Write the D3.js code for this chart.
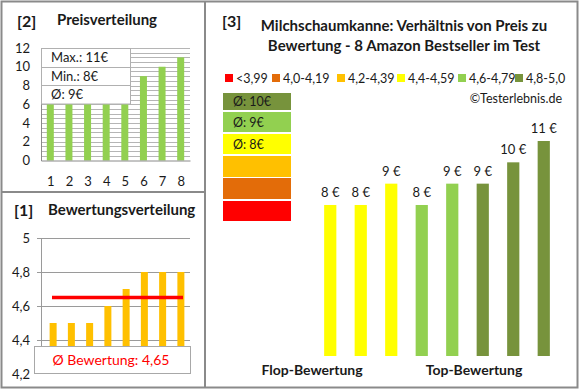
<!DOCTYPE html>
<html>
<head>
<meta charset="utf-8">
<script src="https://cdn.jsdelivr.net/npm/d3@7"></script>
<style>
  html, body { margin: 0; padding: 0; background: #fff; }
  svg { display: block; font-family: Lato, "Open Sans", sans-serif; }
</style>
</head>
<body>
<svg id="chart" width="580" height="390"></svg>
<script>
// ---------- data ----------
const priceCategories = [1, 2, 3, 4, 5, 6, 7, 8];
const priceValues = [8, 8, 8, 9, 9, 9, 10, 11];
const priceTicks = [0, 2, 4, 6, 8, 10, 12];
const priceStats = ["Max.: 11€", "Min.: 8€", "Ø: 9€"];

const ratingCategories = [1, 2, 3, 4, 5, 6, 7, 8];
const ratingValues = [4.5, 4.5, 4.5, 4.6, 4.7, 4.8, 4.8, 4.8];
const ratingTicks = [4.2, 4.4, 4.6, 4.8, 5];
const ratingAverage = 4.65;

const mainCategories = ["p1", "p2", "p3", "p4", "p5", "p6", "p7", "p8"];
const mainPrices = [8, 8, 9, 8, 9, 9, 10, 11];
const mainRatingClass = [3, 3, 3, 4, 4, 5, 5, 5];

const legendLabels = ["<3,99", "4,0-4,19", "4,2-4,39", "4,4-4,59", "4,6-4,79", "4,8-5,0"];
const classColors = ["#FF0000", "#E36C09", "#FFC000", "#FFFF00", "#92D050", "#77933C"];
const avgBoxLabels = ["Ø: 10€", "Ø: 9€", "Ø: 8€", "", "", ""];

// ---------- setup ----------
const svg = d3.select("#chart");
const border = "#8a8a8a";
const txt = "#1a1a1a";
const fmt = d => String(d).replace(".", ",");

// frames
svg.append("rect").attr("x", 1.5).attr("y", 1.5).attr("width", 576).attr("height", 386)
  .attr("fill", "none").attr("stroke", border).attr("stroke-width", 2);
svg.append("line").attr("x1", 205).attr("x2", 205).attr("y1", 1).attr("y2", 388)
  .attr("stroke", border).attr("stroke-width", 2);
svg.append("line").attr("x1", 1).attr("x2", 205).attr("y1", 192).attr("y2", 192)
  .attr("stroke", border).attr("stroke-width", 2);

// ---------- panel [2] Preisverteilung ----------
{
  const g = svg.append("g");
  g.append("text").attr("x", 17).attr("y", 27).attr("font-size", 16).attr("font-weight", "bold")
    .attr("fill", txt).text("[2]");
  g.append("text").attr("x", 57).attr("y", 25).attr("font-size", 15).attr("font-weight", "bold")
    .attr("fill", txt).text("Preisverteilung");

  const x = d3.scalePoint().domain(priceCategories).range([41, 190]).padding(0.5);
  const y = d3.scaleLinear().domain([0, 12]).range([160.5, 48]);

  // minor gridlines every 0.5
  const minor = d3.range(0.5, 12.01, 0.5);
  g.selectAll(".pg").data(minor).join("line")
    .attr("x1", 41).attr("x2", 190)
    .attr("y1", d => Math.round(y(d)) + 0.5).attr("y2", d => Math.round(y(d)) + 0.5)
    .attr("stroke", "#b5b5b5").attr("stroke-width", 1);

  g.selectAll(".pb").data(priceValues).join("rect")
    .attr("x", (d, i) => x(priceCategories[i]) - 3.5).attr("width", 7)
    .attr("y", d => y(d)).attr("height", d => y(0) - y(d))
    .attr("fill", "#92D050");

  // axes
  const ya = g.append("g").attr("transform", "translate(41,0)")
    .call(d3.axisLeft(y).tickValues(priceTicks).tickSize(0).tickPadding(11));
  ya.select(".domain").attr("stroke", border);
  ya.selectAll("text").attr("font-size", 13).attr("fill", txt).attr("font-family", "Lato, sans-serif");

  const xa = g.append("g").attr("transform", "translate(0,160.5)")
    .call(d3.axisBottom(x).tickSize(0).tickPadding(16));
  xa.select(".domain").attr("stroke", border);
  xa.selectAll("text").attr("font-size", 13).attr("fill", txt).attr("font-family", "Lato, sans-serif");

  // stats box
  const rows = [48, 67.5, 85.5, 104];
  g.append("rect").attr("x", 41.5).attr("y", 48.5).attr("width", 89).attr("height", 55.5)
    .attr("fill", "#fff").attr("stroke", "#b0b0b0");
  g.selectAll(".sl").data([rows[1], rows[2]]).join("line")
    .attr("x1", 41.5).attr("x2", 130.5).attr("y1", d => d).attr("y2", d => d)
    .attr("stroke", "#b0b0b0");
  g.selectAll(".st").data(priceStats).join("text")
    .attr("x", 51).attr("y", (d, i) => (rows[i] + rows[i + 1]) / 2 + 4.5)
    .attr("font-size", 13).attr("fill", txt).text(d => d);
}

// ---------- panel [1] Bewertungsverteilung ----------
{
  const g = svg.append("g");
  g.append("text").attr("x", 14).attr("y", 216).attr("font-size", 16).attr("font-weight", "bold")
    .attr("fill", txt).text("[1]");
  g.append("text").attr("x", 48).attr("y", 215).attr("font-size", 15).attr("font-weight", "bold")
    .attr("fill", txt).text("Bewertungsverteilung");

  const x = d3.scalePoint().domain(ratingCategories).range([44, 190]).padding(0.5);
  const y = d3.scaleLinear().domain([4.2, 5]).range([374, 238]);

  g.selectAll(".rg").data(ratingTicks.filter(d => d > 4.2)).join("line")
    .attr("x1", 37).attr("x2", 190)
    .attr("y1", d => Math.round(y(d)) + 0.5).attr("y2", d => Math.round(y(d)) + 0.5)
    .attr("stroke", "#9a9a9a");
  g.append("line").attr("x1", 41.5).attr("x2", 41.5).attr("y1", 238).attr("y2", 374)
    .attr("stroke", "#9a9a9a");

  g.selectAll(".rb").data(ratingValues).join("rect")
    .attr("x", (d, i) => x(ratingCategories[i]) - 3.5).attr("width", 7)
    .attr("y", d => y(d)).attr("height", d => y(4.2) - y(d))
    .attr("fill", "#FFC000");

  g.append("line").attr("x1", 52).attr("x2", 183)
    .attr("y1", y(ratingAverage)).attr("y2", y(ratingAverage))
    .attr("stroke", "#FF0000").attr("stroke-width", 3.5);

  const ya = g.append("g").attr("transform", "translate(41,0)")
    .call(d3.axisLeft(y).tickValues(ratingTicks).tickSize(0).tickPadding(11).tickFormat(fmt));
  ya.select(".domain").remove();
  ya.selectAll("text").attr("font-size", 13).attr("fill", txt).attr("font-family", "Lato, sans-serif");

  g.append("rect").attr("x", 34.5).attr("y", 346.5).attr("width", 156).attr("height", 27)
    .attr("fill", "#fff").attr("stroke", "#a8a8a8");
  g.append("text").attr("x", 111).attr("y", 365).attr("text-anchor", "middle")
    .attr("font-size", 14).attr("fill", "#FF0000").text("Ø Bewertung: " + fmt(ratingAverage));
}

// ---------- panel [3] main ----------
{
  const g = svg.append("g");
  g.append("text").attr("x", 222).attr("y", 27).attr("font-size", 16).attr("font-weight", "bold")
    .attr("fill", txt).text("[3]");
  g.append("text").attr("x", 404).attr("y", 31).attr("text-anchor", "middle").attr("font-size", 15)
    .attr("font-weight", "bold").attr("fill", txt).text("Milchschaumkanne: Verhältnis von Preis zu");
  g.append("text").attr("x", 404).attr("y", 51).attr("text-anchor", "middle").attr("font-size", 15)
    .attr("font-weight", "bold").attr("fill", txt).text("Bewertung - 8 Amazon Bestseller im Test");

  // legend
  const legX = [225, 272, 337, 397, 458, 515];
  const lg = g.selectAll(".lg").data(legendLabels).join("g")
    .attr("transform", (d, i) => `translate(${legX[i]},78)`);
  lg.append("rect").attr("x", 0).attr("y", -4).attr("width", 8).attr("height", 8)
    .attr("fill", (d, i) => classColors[i]);
  lg.append("text").attr("x", 11).attr("y", 4.5).attr("font-size", 12.5).attr("fill", txt).text(d => d);

  g.append("text").attr("x", 562).attr("y", 103).attr("text-anchor", "end").attr("font-size", 12.5)
    .attr("fill", txt).text("©Testerlebnis.de");

  // average boxes (top: best class)
  const boxTops = [93, 112, 134, 156, 178, 201];
  const boxH = [17, 20, 20, 21, 21, 20];
  const order = [5, 4, 3, 2, 1, 0];
  g.selectAll(".ab").data(order).join("rect")
    .attr("x", 223).attr("width", 68)
    .attr("y", (d, i) => boxTops[i]).attr("height", (d, i) => boxH[i])
    .attr("fill", d => classColors[d]);
  g.selectAll(".at").data(avgBoxLabels.filter(d => d)).join("text")
    .attr("x", 233).attr("y", (d, i) => boxTops[i] + boxH[i] / 2 + 4.5)
    .attr("font-size", 12.5).attr("fill", txt).text(d => d);

  // bars
  const x = d3.scaleBand().domain(mainCategories).range([315, 559]).paddingInner(0.6).paddingOuter(0.3);
  const y = d3.scaleLinear().domain([0.92, 11]).range([356, 141]);
  g.selectAll(".mb").data(mainPrices).join("rect")
    .attr("x", (d, i) => x(mainCategories[i])).attr("width", x.bandwidth())
    .attr("y", d => y(d)).attr("height", d => y(0.92) - y(d))
    .attr("fill", (d, i) => classColors[mainRatingClass[i]]);
  g.selectAll(".ml").data(mainPrices).join("text")
    .attr("x", (d, i) => x(mainCategories[i]) + x.bandwidth() / 2)
    .attr("y", d => y(d) - 8).attr("text-anchor", "middle")
    .attr("font-size", 13).attr("fill", txt).text(d => d + " €");

  g.append("text").attr("x", 312).attr("y", 375).attr("text-anchor", "middle").attr("font-size", 14)
    .attr("font-weight", "bold").attr("fill", txt).text("Flop-Bewertung");
  g.append("text").attr("x", 474).attr("y", 375).attr("text-anchor", "middle").attr("font-size", 14)
    .attr("font-weight", "bold").attr("fill", txt).text("Top-Bewertung");
}
</script>
</body>
</html>
